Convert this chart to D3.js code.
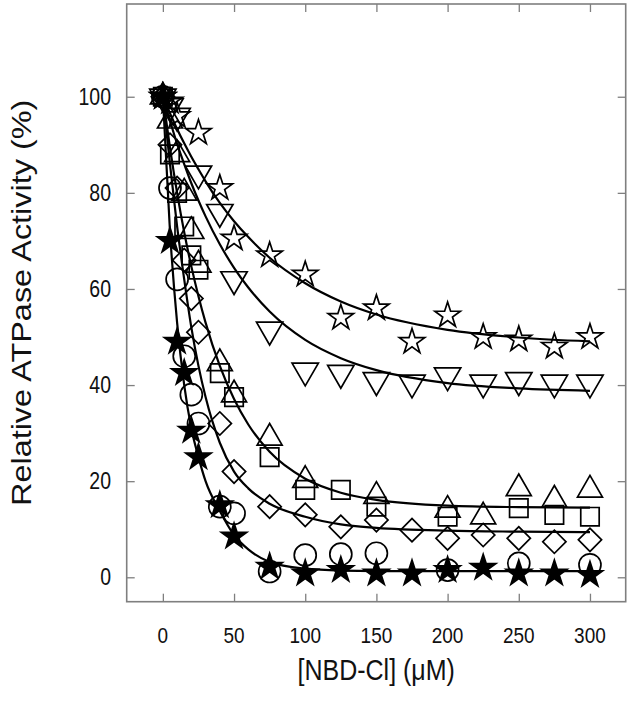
<!DOCTYPE html>
<html>
<head>
<meta charset="utf-8">
<script src="https://cdn.jsdelivr.net/npm/d3@7"></script>
<style>
  html, body { margin: 0; padding: 0; background: #fff; }
  svg { display: block; }
  text { font-family: "Liberation Sans", Arial, sans-serif; fill: #111; }
</style>
</head>
<body>
<svg id="chart" width="629" height="713"></svg>
<script>
// ---------- data ----------
const xTicks = [0, 50, 100, 150, 200, 250, 300];
const yTicks = [0, 20, 40, 60, 80, 100];
const xLabel = "[NBD-Cl] (\u03bcM)";
const yLabel = "Relative ATPase Activity (%)";

// open stars
const starOpenX = [0, 5, 10, 25, 40, 50, 75, 100, 125, 150, 175, 200, 225, 250, 275, 300];
const starOpenY = [100, 99, 96, 92.5, 81, 70.5, 67, 63, 54, 56, 49, 54.5, 50, 49.5, 48, 50];
// inverted triangles
const triDownX = [0, 5, 10, 25, 40, 50, 75, 100, 125, 150, 175, 200, 225, 250, 275, 300];
const triDownY = [100, 98, 96, 84, 76, 62, 51.5, 43, 42.5, 41, 40.5, 42, 40.5, 41, 40.5, 40.5];
// up triangles
const triUpX = [0, 5, 10, 15, 20, 25, 40, 50, 75, 100, 150, 200, 225, 250, 275, 300];
const triUpY = [100, 95, 88, 80, 72, 65, 44.5, 38, 29, 20.2, 16.9, 14, 12.6, 18.5, 16.1, 18.2];
// squares
const squareX = [0, 5, 10, 15, 20, 25, 40, 50, 75, 100, 125, 150, 200, 250, 275, 300];
const squareY = [100, 88, 80, 73, 67, 64, 42.5, 37.5, 25, 18.2, 18.2, 14.7, 12.6, 14.4, 13, 12.6];
// diamonds
const diamondX = [0, 5, 10, 15, 20, 25, 40, 50, 75, 100, 125, 150, 175, 200, 225, 250, 275, 300];
const diamondY = [100, 90, 81, 66, 58, 51, 32, 22, 14.7, 13, 10.5, 11.9, 9.8, 8.1, 8.8, 8.1, 7.4, 7.8];
// open circles
const circleX = [0, 5, 10, 15, 20, 25, 40, 50, 75, 100, 125, 150, 200, 250, 300];
const circleY = [100, 81, 62, 46, 38, 32, 14.7, 13.3, 1.2, 4.6, 4.8, 5.0, 1.5, 2.9, 2.6];
// filled stars
const starFillX = [0, 5, 10, 15, 20, 25, 40, 50, 75, 100, 125, 150, 175, 200, 225, 250, 275, 300];
const starFillY = [100, 70, 49, 42.5, 30.5, 25, 15, 8.5, 2.2, 0.8, 1.5, 0.8, 0.8, 1.5, 2, 0.8, 0.8, 0.5];

// fitted curves
const fitX = [0, 5, 10, 15, 20, 25, 30, 40, 50, 60, 75, 100, 125, 150, 200, 250, 300];
const fitStarOpen = [100, 96.6, 93.3, 90.3, 87.5, 84.9, 82.4, 77.9, 74.1, 70.8, 66.5, 61.2, 57.4, 54.7, 51.5, 49.9, 49.1];
const fitTriDown  = [100, 95.0, 90.2, 86.0, 82.0, 78.4, 75.1, 69.3, 64.4, 60.3, 55.3, 49.4, 45.6, 43.1, 40.4, 39.3, 38.8];
const fitTriSq    = [100, 89.4, 80.0, 71.8, 64.7, 58.5, 53.0, 44.0, 37.1, 31.8, 26.1, 20.5, 17.6, 16.1, 14.9, 14.6, 14.5];
const fitDiamond  = [100, 86, 73, 62, 52, 44, 37.5, 28, 22, 18.5, 15.3, 12.6, 11.0, 10.3, 9.7, 9.5, 9.4];
const fitBottom   = [100, 72, 53, 40, 31, 25, 20, 13.8, 8.8, 5.8, 3.2, 1.8, 1.4, 1.3, 1.3, 1.3, 1.3];

// ---------- layout ----------
const svg = d3.select("#chart");
const L = 126.7, R = 625.7, T = 4, B = 601.7;
const x = d3.scaleLinear().domain([-25.4, 325.1]).range([L, R]);
const y = d3.scaleLinear().domain([-5.08, 119.3]).range([B, T]);
const frameColor = "#7f7f7f";
const sy = 1.2; // vertical stretch of the original lettering

// frame
svg.append("rect").attr("x", L).attr("y", T).attr("width", R - L).attr("height", B - T)
  .attr("fill", "none").attr("stroke", frameColor).attr("stroke-width", 1.6);

// ticks (inward) on all four sides
const tickLen = 8;
const bottomAxis = d3.axisBottom(x).tickValues(xTicks).tickSizeInner(-tickLen).tickSizeOuter(0).tickFormat("");
const topAxis = d3.axisTop(x).tickValues(xTicks).tickSizeInner(-tickLen).tickSizeOuter(0).tickFormat("");
const leftAxis = d3.axisLeft(y).tickValues(yTicks).tickSizeInner(-tickLen).tickSizeOuter(0).tickFormat("");
const rightAxis = d3.axisRight(y).tickValues(yTicks).tickSizeInner(-tickLen).tickSizeOuter(0).tickFormat("");
[[bottomAxis, `translate(0,${B})`], [topAxis, `translate(0,${T})`],
 [leftAxis, `translate(${L},0)`], [rightAxis, `translate(${R},0)`]].forEach(([ax, tr]) => {
  const g = svg.append("g").attr("transform", tr).call(ax);
  g.select(".domain").remove();
  g.selectAll("line").attr("stroke", frameColor).attr("stroke-width", 1.3);
});

// tick labels
svg.append("g").selectAll("text").data(xTicks).join("text")
  .attr("transform", d => `translate(${x(d)},${643}) scale(1,${sy})`)
  .attr("text-anchor", "middle").attr("font-size", 19).text(d => d);
svg.append("g").selectAll("text").data(yTicks).join("text")
  .attr("transform", d => `translate(${111},${y(d) + 8}) scale(1,${sy})`)
  .attr("text-anchor", "end").attr("font-size", 19.5).text(d => d);

// axis titles
svg.append("text")
  .attr("transform", `translate(${(L + R) / 2},${680}) scale(1,${sy})`)
  .attr("text-anchor", "middle").attr("font-size", 25).text(xLabel);
svg.append("text")
  .attr("transform", `translate(${31},${(T + B) / 2}) scale(1,${sy}) rotate(-90)`)
  .attr("text-anchor", "middle").attr("font-size", 27).text(yLabel);

// fitted curves
const line = d3.line().x(d => x(d[0])).y(d => y(d[1])).curve(d3.curveMonotoneX);
[fitStarOpen, fitTriDown, fitTriSq, fitDiamond, fitBottom].forEach(arr => {
  svg.append("path").datum(fitX.map((v, i) => [v, arr[i]]))
    .attr("d", line).attr("fill", "none").attr("stroke", "#000").attr("stroke-width", 2.2);
});

// markers
const series = [
  { xs: squareX, ys: squareY, type: d3.symbolSquare, size: 340, rot: 0, fill: "none" },
  { xs: triUpX, ys: triUpY, type: d3.symbolTriangle, size: 270, rot: 0, fill: "none" },
  { xs: diamondX, ys: diamondY, type: d3.symbolSquare, size: 270, rot: 45, fill: "none" },
  { xs: circleX, ys: circleY, type: d3.symbolCircle, size: 380, rot: 0, fill: "none" },
  { xs: triDownX, ys: triDownY, type: d3.symbolTriangle, size: 300, rot: 180, fill: "none" },
  { xs: starOpenX, ys: starOpenY, type: d3.symbolStar, size: 200, rot: 0, fill: "none" },
  { xs: starFillX, ys: starFillY, type: d3.symbolStar, size: 200, rot: 0, fill: "#000" }
];
series.forEach(s => {
  const sym = d3.symbol().type(s.type).size(s.size);
  svg.append("g").selectAll("path").data(s.xs.map((v, i) => [v, s.ys[i]])).join("path")
    .attr("transform", d => `translate(${x(d[0])},${y(d[1])}) rotate(${s.rot})`)
    .attr("d", sym).attr("fill", s.fill).attr("stroke", "#000").attr("stroke-width", 1.7);
});
</script>
</body>
</html>
